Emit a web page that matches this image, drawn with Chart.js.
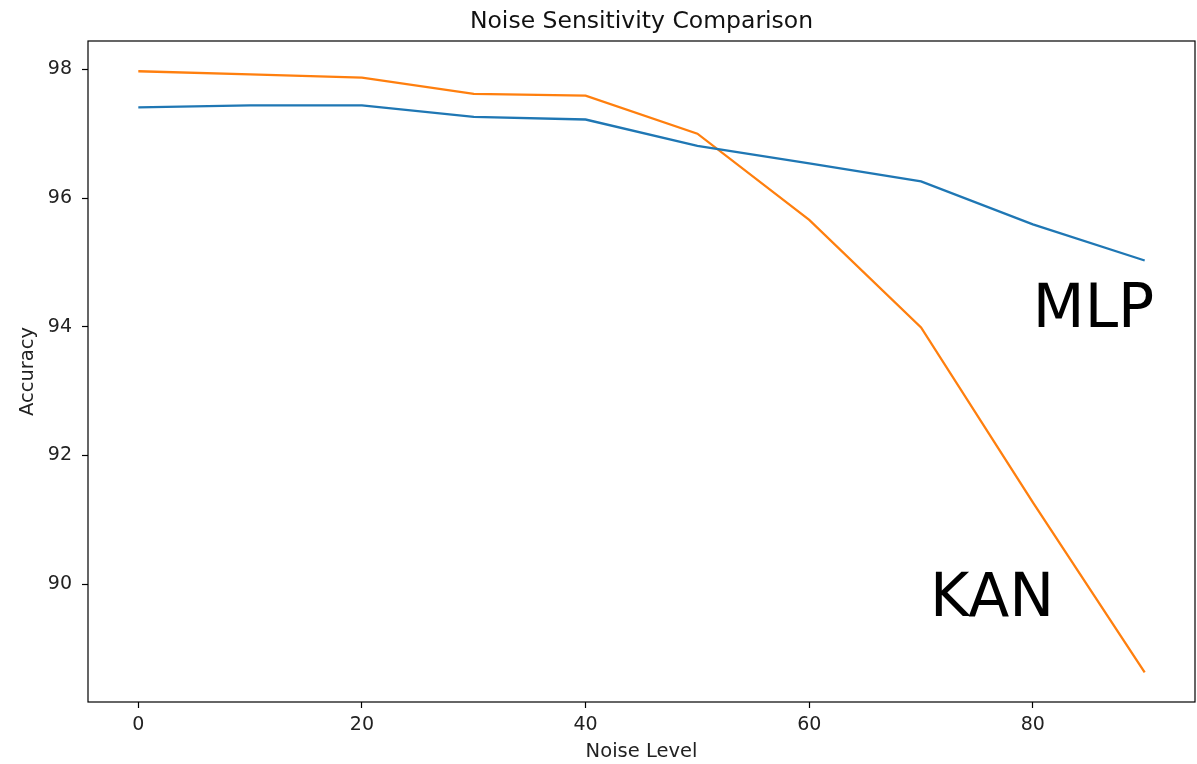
<!DOCTYPE html>
<html>
<head>
<meta charset="utf-8">
<script src="https://cdn.jsdelivr.net/npm/chart.js@4.4.0/dist/chart.umd.min.js"></script>
<style>
  html, body { margin: 0; padding: 0; background: #fff; }
  #wrap { width: 1197px; height: 764px; }
</style>
</head>
<body>
<div id="wrap"><canvas id="noiseChart" width="1197" height="764"></canvas></div>
<script>
// Data
var noiseLevels = [0, 10, 20, 30, 40, 50, 60, 70, 80, 90];
var mlpAccuracy = [97.41, 97.44, 97.44, 97.26, 97.22, 96.81, 96.54, 96.26, 95.59, 95.03];
var kanAccuracy = [97.97, 97.92, 97.87, 97.62, 97.59, 97.00, 95.66, 93.99, 91.27, 88.63];
var xTickValues = [0, 20, 40, 60, 80];
var yTickValues = [90, 92, 94, 96, 98];
var chartTitle = 'Noise Sensitivity Comparison';
// text labels placed in data coordinates
var annotations = [
  { text: 'MLP', x: 80, y: 94 },
  { text: 'KAN', x: 70.8, y: 89.5 }
];

var FONT = "'DejaVu Sans', sans-serif";

function toPoints(xs, ys) {
  return xs.map(function(x, i) { return { x: x, y: ys[i] }; });
}

// Frame around the plot area, title over the axes, big text labels
var framePlugin = {
  id: 'frameAndText',
  afterDatasetsDraw: function(chart) {
    var ctx = chart.ctx;
    var area = chart.chartArea;
    var xs = chart.scales.x, ys = chart.scales.y;
    ctx.save();
    ctx.strokeStyle = '#000';
    ctx.lineWidth = 1.2;
    ctx.strokeRect(area.left, area.top, area.right - area.left, area.bottom - area.top);

    ctx.fillStyle = '#111';
    ctx.font = '23.5px ' + FONT;
    ctx.textAlign = 'center';
    ctx.textBaseline = 'alphabetic';
    ctx.fillText(chartTitle, (area.left + area.right) / 2, 28);

    ctx.fillStyle = '#000';
    ctx.font = '60px ' + FONT;
    ctx.textAlign = 'left';
    annotations.forEach(function(a) {
      ctx.fillText(a.text, xs.getPixelForValue(a.x), ys.getPixelForValue(a.y));
    });
    ctx.restore();
  }
};

new Chart(document.getElementById('noiseChart'), {
  type: 'line',
  data: {
    datasets: [{
      label: 'MLP',
      data: toPoints(noiseLevels, mlpAccuracy),
      borderColor: '#1f77b4',
      borderWidth: 2.3,
      pointRadius: 0,
      tension: 0
    }, {
      label: 'KAN',
      data: toPoints(noiseLevels, kanAccuracy),
      borderColor: '#ff7f0e',
      borderWidth: 2.3,
      pointRadius: 0,
      tension: 0
    }]
  },
  options: {
    responsive: false,
    animation: false,
    layout: { padding: { left: 0, right: 2, top: 41, bottom: 0 } },
    plugins: {
      legend: { display: false },
      tooltip: { enabled: false },
      title: { display: false }
    },
    scales: {
      x: {
        type: 'linear',
        min: -4.5,
        max: 94.5,
        afterBuildTicks: function(axis) {
          axis.ticks = xTickValues.map(function(v) { return { value: v }; });
        },
        afterFit: function(axis) { axis.height = 62; },
        grid: { drawOnChartArea: false, tickLength: 6, color: '#000', tickWidth: 1.2 },
        border: { display: false },
        ticks: { color: '#222', font: { family: FONT, size: 19 }, padding: 5.5, maxRotation: 0 },
        title: {
          display: true,
          text: 'Noise Level',
          color: '#222',
          font: { family: FONT, size: 19.5 },
          padding: { top: 0, bottom: 0 }
        }
      },
      y: {
        type: 'linear',
        min: 88.17,
        max: 98.44,
        afterBuildTicks: function(axis) {
          axis.ticks = yTickValues.map(function(v) { return { value: v }; });
        },
        afterFit: function(axis) { axis.width = 88; },
        grid: { drawOnChartArea: false, tickLength: 6, color: '#000', tickWidth: 1.2 },
        border: { display: false },
        ticks: { color: '#222', font: { family: FONT, size: 19 }, padding: 10 },
        title: {
          display: true,
          text: 'Accuracy',
          color: '#222',
          font: { family: FONT, size: 19.5 },
          padding: { top: 16, bottom: 0 }
        }
      }
    }
  },
  plugins: [framePlugin]
});
</script>
</body>
</html>
